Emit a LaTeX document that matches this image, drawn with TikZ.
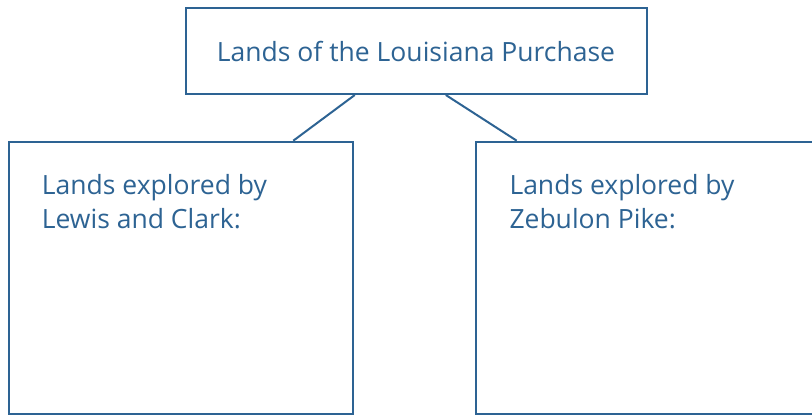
\documentclass[tikz,border=0pt]{standalone}
\usepackage{fontspec}
\setmainfont{Open Sans}
\definecolor{inkblue}{RGB}{45,99,147}
\begin{document}
\begin{tikzpicture}[x=1pt,y=1pt,
  frame/.style={draw=inkblue, line width=2pt, inner sep=0pt},
  label/.style={text=inkblue, inner sep=0pt, font=\fontsize{26.5}{34}\selectfont},
  link/.style={draw=inkblue, line width=2pt}]
  \useasboundingbox (0,0) rectangle (812,415);
  \begin{scope}
    \clip (0,0) rectangle (812,415);
    % title box and its two branches
    \node[frame, minimum width=461pt, minimum height=86.3pt] (top) at (416.1,364.15) {};
    \node[frame, minimum width=344.3pt, minimum height=272.3pt] (lc) at (181.15,137.15) {};
    \node[frame, minimum width=353.7pt, minimum height=272.3pt] (zp) at (653.15,137.15) {};
    \draw[link] ([xshift=170.2pt]top.south west) -- ([xshift=285.3pt]lc.north west);
    \draw[link] ([xshift=261.2pt]top.south west) -- ([xshift=41.4pt]zp.north west);
  \end{scope}
  \node[label, anchor=base] (toptext) at (416,353.3) {Lands of the Louisiana Purchase};
  \node[label, anchor=base west, align=left] (lctext) at (41.7,186) {Lands explored by\\Lewis and Clark:};
  \node[label, anchor=base west, align=left] (zptext) at (509.3,186) {Lands explored by\\Zebulon Pike:};
\end{tikzpicture}
\end{document}
